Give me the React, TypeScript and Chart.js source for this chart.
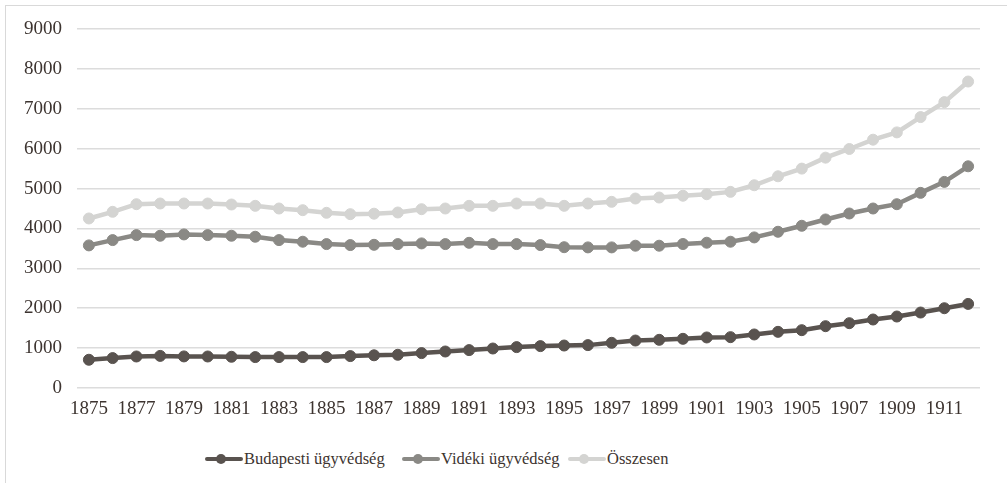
import React, { useEffect, useRef } from "react";
import { Chart, registerables } from "chart.js";

Chart.register(...registerables);

const years: string[] = [
  "1875","1876","1877","1878","1879","1880","1881","1882","1883","1884",
  "1885","1886","1887","1888","1889","1890","1891","1892","1893","1894",
  "1895","1896","1897","1898","1899","1900","1901","1902","1903","1904",
  "1905","1906","1907","1908","1909","1910","1911","1912",
];

const budapesti: number[] = [
  708, 750, 790, 805, 792, 790, 783, 775, 775, 775,
  775, 800, 820, 833, 875, 915, 950, 990, 1025, 1050,
  1065, 1075, 1133, 1190, 1208, 1233, 1267, 1275, 1342, 1408,
  1450, 1550, 1625, 1717, 1792, 1892, 2000, 2108,
];

const videki: number[] = [
  3575, 3708, 3833, 3817, 3850, 3833, 3817, 3792, 3708, 3667,
  3608, 3583, 3590, 3608, 3625, 3608, 3640, 3608, 3608, 3583,
  3530, 3525, 3525, 3567, 3567, 3610, 3642, 3667, 3775, 3917,
  4067, 4225, 4375, 4500, 4608, 4892, 5167, 5558,
];

const osszesen: number[] = [
  4250, 4417, 4608, 4625, 4625, 4625, 4600, 4567, 4500, 4458,
  4392, 4358, 4370, 4400, 4483, 4500, 4567, 4567, 4625, 4625,
  4567, 4625, 4667, 4750, 4775, 4820, 4858, 4917, 5083, 5308,
  5500, 5775, 5992, 6225, 6408, 6792, 7167, 7683,
];

const seriesNames: string[] = ["Budapesti ügyvédség", "Vidéki ügyvédség", "Összesen"];
const seriesColors: string[] = ["#59534f", "#8a8985", "#d4d4d2"];
const yTicks: number[] = [0, 1000, 2000, 3000, 4000, 5000, 6000, 7000, 8000, 9000];

const FONT = "'Liberation Serif', 'DejaVu Serif', serif";
const TEXT = "#3d3430";

export default function App() {
  const ref = useRef<HTMLCanvasElement | null>(null);

  useEffect(() => {
    if (!ref.current) return;
    Chart.defaults.font.family = FONT;
    const values = [budapesti, videki, osszesen];
    const chart = new Chart(ref.current, {
      type: "line",
      data: {
        labels: years,
        datasets: values.map((v, i) => ({
          label: seriesNames[i],
          data: v,
          borderColor: seriesColors[i],
          backgroundColor: seriesColors[i],
          pointBackgroundColor: seriesColors[i],
          pointBorderColor: seriesColors[i],
          borderWidth: 4.5,
          pointRadius: 5.5,
          pointBorderWidth: 1,
          tension: 0,
          fill: false,
        })),
      },
      options: {
        responsive: false,
        animation: false,
        devicePixelRatio: 1,
        font: { family: FONT },
        layout: { padding: { left: 0, right: 27, top: 29, bottom: 0 } },
        plugins: {
          legend: { display: false },
          tooltip: { enabled: false },
        },
        scales: {
          x: {
            type: "category",
            offset: true,
            grid: { display: false, drawTicks: false },
            border: { display: false },
            ticks: {
              autoSkip: false,
              maxRotation: 0,
              minRotation: 0,
              padding: 10,
              color: TEXT,
              font: { family: FONT, size: 19 },
              callback: (_v: any, idx: number) => (idx % 2 === 0 ? years[idx] : ""),
            },
            afterFit: (s: any) => {
              s.height = 52;
            },
          },
          y: {
            min: 0,
            max: 9000,
            afterBuildTicks: (s: any) => {
              s.ticks = yTicks.map((v) => ({ value: v }));
            },
            grid: { color: "#dcdcdc", lineWidth: 1.6, drawTicks: false },
            border: { display: false },
            ticks: {
              padding: 15,
              color: TEXT,
              font: { family: FONT, size: 19 },
              callback: (v: any) => String(v),
            },
            afterFit: (s: any) => {
              s.width = 77;
            },
          },
        },
      },
    });
    return () => chart.destroy();
  }, []);

  const legendItems = [
    { x: 205, text: seriesNames[0], color: seriesColors[0] },
    { x: 402, text: seriesNames[1], color: seriesColors[1] },
    { x: 568, text: seriesNames[2], color: seriesColors[2] },
  ];

  return (
    <div
      style={{
        position: "fixed",
        left: 0,
        top: 0,
        width: 1007,
        height: 483,
        background: "#ffffff",
        overflow: "hidden",
      }}
    >
      <div
        style={{
          position: "absolute",
          left: 5,
          top: 5,
          width: 1010,
          height: 490,
          borderLeft: "1.5px solid #d9d9d9",
          borderTop: "1.5px solid #d9d9d9",
        }}
      />
      <canvas
        ref={ref}
        width={1007}
        height={440}
        style={{ position: "absolute", left: 0, top: 0, width: 1007, height: 440 }}
      />
      {legendItems.map((it) => (
        <div
          key={it.text}
          style={{
            position: "absolute",
            left: it.x,
            top: 447,
            height: 24,
            display: "flex",
            alignItems: "center",
            fontFamily: FONT,
            fontSize: 16.5,
            color: TEXT,
            whiteSpace: "nowrap",
          }}
        >
          <span style={{ position: "relative", width: 38, height: 24, display: "inline-block", marginRight: 1 }}>
            <span
              style={{
                position: "absolute",
                left: 0,
                top: 10,
                width: 38,
                height: 4,
                background: it.color,
                borderRadius: 2,
              }}
            />
            <span
              style={{
                position: "absolute",
                left: 11,
                top: 7,
                width: 10,
                height: 10,
                borderRadius: 5,
                background: it.color,
              }}
            />
          </span>
          <span>{it.text}</span>
        </div>
      ))}
    </div>
  );
}
